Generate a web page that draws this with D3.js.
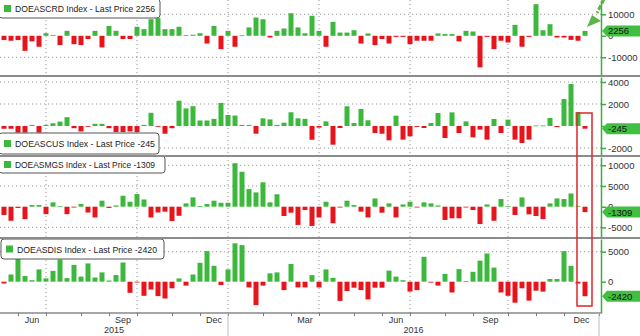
<!DOCTYPE html>
<html>
<head>
<meta charset="utf-8">
<script src="https://cdn.jsdelivr.net/npm/d3@7"></script>
<style>
  body { margin: 0; background: #fff; }
  svg { display: block; font-family: "Liberation Sans", Arial, sans-serif; }
</style>
</head>
<body>
<svg id="chart" width="640" height="336"></svg>
<script>
// weekly DOE inventory changes, week by week from 22 May 2015 to 23 Dec 2016
const firstWeek = new Date(2015, 4, 22);
const axisEnd = new Date(2017, 0, 14);

const crude = [
  -2000, -2300, -2000, -7000, -2600, -5100, 1200, 300, -4300, 2300,
  -3900, -4300, -1500, 2300, -5400, 4600, 2300, -1500, -1500, 4200,
  3100, 7700, 8200, 3100, 3100, 4200, 300, 500, 1200, -3600,
  4600, -6200, 2300, -5100, 200, 3900, 8500, 7700, -800, 2300,
  3400, 10500, 3900, 1200, 9300, 2300, -5100, 6500, 1500, 1500,
  2600, -3600, 1100, -4300, -1500, -3600, -500, -500, -3900, -2300,
  -2300, -2300, 1100, 800, 800, -2600, 2300, 2000, -14700, -500,
  -6200, -2300, -3100, 5100, -5100, -500, 14700, 2600, 5400, -800,
  -800, -1900, -2300, 2256
];
const cushing = [
  -250, -250, -600, -600, 100, -600, 100, 250, 400, 800,
  -200, -500, -50, 200, 200, -200, -550, -550, -500, -550,
  100, 1200, -50, -700, -200, 2300, 1600, 1800, 500, 500,
  650, 2100, 1000, 950, 100, 100, -700, 700, 600, 100,
  300, 1250, 700, 650, -1250, -150, 420, -1700, -180, 1790,
  270, 1550, 520, -640, -700, -1300, 940, -1240, -940, -80,
  -180, 270, 1180, -1090, 1240, -640, 420, -1030, -330, -1240,
  640, -640, 580, -1240, -1550, -1240, 50, 50, 730, -100,
  2450, 3820, 1270, -245
];
const gasoline = [
  -2000, -3400, -300, -3000, 400, 400, -1800, 1050, 100, -1800,
  -200, 650, -1400, -2600, 1450, -300, 300, 2650, 1200, 3050,
  1750, -2600, -1400, -1200, -3450, -2200, 800, 2250, 150, 650,
  1450, 950, 950, 10500, 8450, 4250, 3450, 5900, 1050, 3000,
  -2250, -1450, -4400, -800, -4650, -2600, 1200, -4000, -200, 1450,
  400, -1200, -2600, 2000, -1450, 800, -2600, 550, 1200, -100,
  1050, 800, 300, -3200, -2800, -2800, -100, -800, -4200, 550,
  -3400, 1850, 100, -2000, 2250, -1850, -2250, -3000, 800, 2000,
  1850, 3200, 200, -1309
];
const distillates = [
  -300, 1200, 3900, 950, 250, 2050, 550, 1800, 3700, 600,
  2800, 850, 3050, 700, 1550, 200, 1100, 3200, -1850, -100,
  -2350, -1300, -2400, -2800, -1100, 550, -650, 1200, 3150, 5100,
  2650, -550, 2050, 6400, 6100, -950, -3900, -650, 1400, 1550,
  -1400, 2950, -950, -950, 1100, -950, 2050, 650, -3200, -1550,
  -1000, -1400, -2950, -1000, -1000, 1850, 850, 250, -1650, -1400,
  4150, -150, -650, 1300, -1800, 2100, 100, 1650, 3500, 4700,
  2350, -1800, -2350, -3500, -1100, -3150, -1500, -1650, 450, 450,
  5100, 2650, -300, -2420
];

const tickers = ["DOEASCRD", "DOEASCUS", "DOEASMGS", "DOEASDIS"];
const lastPrices = [2256, -245, -1309, -2420];
const yTicks = [[-10000, 0, 10000], [-2000, 0, 2000, 4000], [-5000, 0, 5000, 10000], [0, 5000]];
const monthNames = ["Jan", "Feb", "Mar", "Apr", "May", "Jun", "Jul", "Aug", "Sep", "Oct", "Nov", "Dec"];

const series = [crude, cushing, gasoline, distillates];

// layout of the four stacked panels
const panels = [
  { top: 0,   bottom: 75,  zero: 35.8,  unit: 10000, px: 21.5, legend: { x: -1, y: -1,  w: 161, h: 19 } },
  { top: 77,  bottom: 155, zero: 126,   unit: 2000,  px: 22,   legend: { x: -1, y: 133, w: 160, h: 21 } },
  { top: 157, bottom: 237, zero: 206.7, unit: 5000,  px: 20.7, legend: { x: -1, y: 156, w: 166, h: 17 } },
  { top: 239, bottom: 313, zero: 281.7, unit: 5000,  px: 30,   legend: { x: 1,  y: 239, w: 163, h: 20 } }
];

const width = 640, height = 336;
const axisX = 601;
const green = "#3cb93c", red = "#e8141b", axisGreen = "#3aae3a";

const svg = d3.select("#chart");

const weeks = crude.map((d, i) => d3.timeWeek.offset(firstWeek, i));
const allFridays = d3.timeFriday.range(firstWeek, axisEnd);

const x = d3.scaleTime()
  .domain([firstWeek, weeks[weeks.length - 1]])
  .range([4, 585]);

const monthStarts = allFridays.filter(d => d.getDate() <= 7);
const quarterStarts = monthStarts.filter(d => d.getMonth() % 3 === 0);

svg.append("clipPath").attr("id", "plot")
  .append("rect").attr("x", 0).attr("y", 0).attr("width", axisX).attr("height", height);

// vertical quarter grid
svg.append("g").selectAll("line")
  .data(quarterStarts.filter(d => x(d) < axisX - 4))
  .join("line")
  .attr("x1", d => x(d)).attr("x2", d => x(d))
  .attr("y1", 0).attr("y2", 313)
  .attr("stroke", "#999").attr("stroke-dasharray", "1.2,2.8");

panels.forEach((p, k) => {
  const y = d3.scaleLinear()
    .domain([(p.zero - p.top) / p.px * p.unit, -(p.bottom - p.zero) / p.px * p.unit])
    .range([p.top, p.bottom]);

  const g = svg.append("g");

  // horizontal grid
  g.selectAll("line.grid")
    .data(yTicks[k].filter(v => v !== 0))
    .join("line")
    .attr("class", "grid")
    .attr("x1", 0).attr("x2", axisX)
    .attr("y1", d => y(d)).attr("y2", d => y(d))
    .attr("stroke", "#999").attr("stroke-dasharray", "1.2,2.8");

  // bars
  g.append("g").attr("clip-path", "url(#plot)")
    .selectAll("rect")
    .data(series[k])
    .join("rect")
    .attr("x", (d, i) => x(weeks[i]) - 2.5)
    .attr("width", 5)
    .attr("y", d => Math.min(y(d), y(0)))
    .attr("height", d => Math.max(0.8, Math.abs(y(d) - y(0))))
    .attr("fill", d => d >= 0 ? green : red);

  // right axis
  const ax = g.append("g")
    .attr("transform", `translate(${axisX},0)`)
    .call(d3.axisRight(y).tickValues(yTicks[k]).tickSize(5).tickSizeOuter(0).tickFormat(d => String(d)));
  ax.select(".domain").attr("stroke", axisGreen).attr("stroke-width", 1.5);
  ax.selectAll(".tick line").attr("stroke", axisGreen).attr("stroke-width", 1.5);
  ax.selectAll(".tick text")
    .attr("x", 7)
    .attr("fill", "#333")
    .style("font-size", "9.5px")
    .style("font-family", "'Liberation Sans', Arial, sans-serif");

  // last price tag
  const cy = y(lastPrices[k]);
  g.append("path")
    .attr("d", `M${axisX + 1},${cy} L${axisX + 6},${cy - 5.5} L640,${cy - 5.5} L640,${cy + 5.5} L${axisX + 6},${cy + 5.5} Z`)
    .attr("fill", "#41bf41");
  g.append("text")
    .attr("x", axisX + 7).attr("y", cy + 3.5)
    .attr("fill", "#111")
    .style("font-size", "9.5px")
    .text(String(lastPrices[k]));

  // legend box
  const L = p.legend;
  g.append("rect")
    .attr("x", L.x).attr("y", L.y).attr("width", L.w).attr("height", L.h)
    .attr("rx", 3)
    .attr("fill", "#fff").attr("stroke", "#555").attr("stroke-width", 1);
  g.append("rect")
    .attr("x", L.x + 5).attr("y", L.y + L.h / 2 - 3.5)
    .attr("width", 7).attr("height", 7)
    .attr("fill", green);
  g.append("text")
    .attr("x", L.x + 16).attr("y", L.y + L.h / 2 + 3.5)
    .attr("fill", "#222")
    .style("font-size", "9.5px")
    .attr("textLength", 140).attr("lengthAdjust", "spacingAndGlyphs")
    .text(`${tickers[k]} Index - Last Price ${lastPrices[k]}`);
});

// panel separators
svg.append("g").selectAll("line")
  .data(panels.slice(0, 3))
  .join("line")
  .attr("x1", 0).attr("x2", width)
  .attr("y1", p => p.bottom + 1).attr("y2", p => p.bottom + 1)
  .attr("stroke", "#8c8c8c").attr("stroke-width", 2);

// bottom time axis
const xa = svg.append("g")
  .attr("transform", "translate(0,313)")
  .call(d3.axisBottom(x).tickValues(monthStarts.filter(d => x(d) < axisX)).tickSize(3).tickSizeOuter(0).tickFormat(""));
xa.select(".domain").attr("stroke", "#888").attr("stroke-width", 1.5).attr("d", `M0,0H${axisX}`);
xa.selectAll(".tick line").attr("stroke", "#777");

const monthLabels = [];
for (let i = 0; i < monthStarts.length - 1; i++) {
  const d = monthStarts[i];
  if (d.getMonth() % 3 === 2) {
    monthLabels.push({ name: monthNames[d.getMonth()], x: (x(d) + x(monthStarts[i + 1])) / 2 });
  }
}
svg.append("g").selectAll("text")
  .data(monthLabels)
  .join("text")
  .attr("x", d => d.x).attr("y", 323)
  .attr("text-anchor", "middle")
  .attr("fill", "#333")
  .style("font-size", "9px")
  .text(d => d.name);

// year separators and labels
const yearStarts = quarterStarts.filter(d => d.getMonth() === 0);
svg.append("g").selectAll("line")
  .data(yearStarts)
  .join("line")
  .attr("x1", d => Math.min(x(d), axisX - 1)).attr("x2", d => Math.min(x(d), axisX - 1))
  .attr("y1", 313).attr("y2", 336)
  .attr("stroke", "#bbb");

const yearLabels = [
  { year: 2015, x: (0 + x(yearStarts[0])) / 2 },
  { year: 2016, x: (x(yearStarts[0]) + x(yearStarts[1])) / 2 }
];
svg.append("g").selectAll("text")
  .data(yearLabels)
  .join("text")
  .attr("x", d => d.x).attr("y", 333)
  .attr("text-anchor", "middle")
  .attr("fill", "#333")
  .style("font-size", "9px")
  .text(d => d.year);

// annotations: red box round the last bars, green arrow on crude
svg.append("rect")
  .attr("x", 577).attr("y", 113).attr("width", 15).attr("height", 193)
  .attr("fill", "none").attr("stroke", "#e0262b").attr("stroke-width", 1.5);

svg.append("path")
  .attr("d", "M604,-1 L597,13")
  .attr("stroke", "#5cb54a").attr("stroke-width", 3).attr("stroke-dasharray", "5,2")
  .attr("fill", "none");
svg.append("path")
  .attr("d", "M592,15 L601,21 L587,27 Z")
  .attr("fill", "#5cb54a");
</script>
</body>
</html>
